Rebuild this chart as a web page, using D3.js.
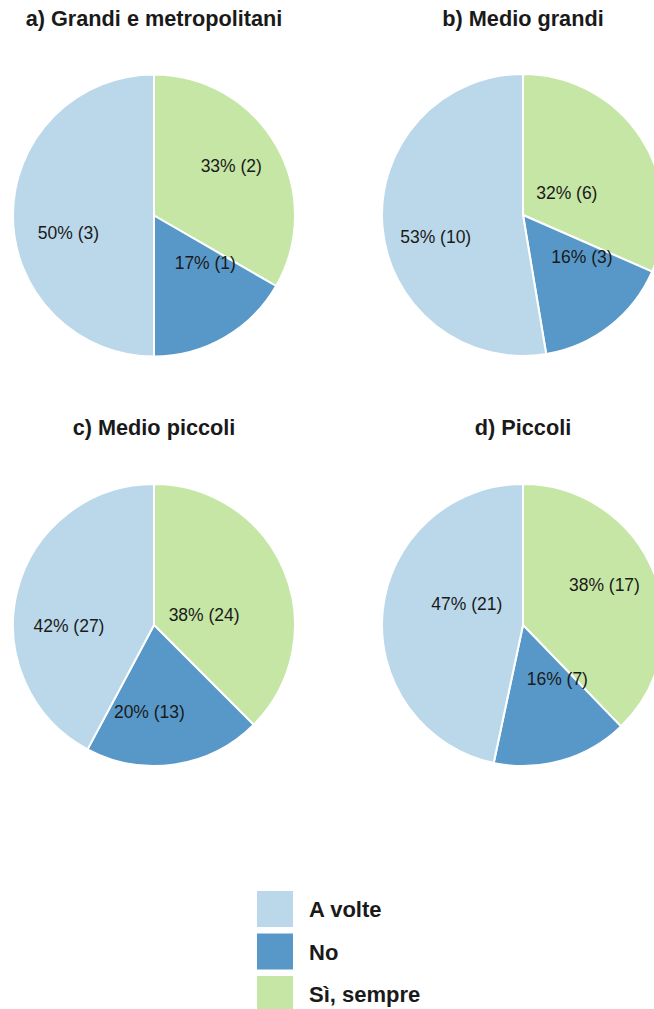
<!DOCTYPE html>
<html>
<head>
<meta charset="utf-8">
<script src="https://cdn.jsdelivr.net/npm/d3@7"></script>
<style>
  html, body { margin: 0; padding: 0; background: #ffffff; }
  svg { display: block; font-family: "Liberation Sans", Arial, sans-serif; }
</style>
</head>
<body>
<svg id="chart" width="654" height="1009"></svg>
<script>
// Panel titles (one pie per municipality size class)
const panels = ["a) Grandi e metropolitani", "b) Medio grandi", "c) Medio piccoli", "d) Piccoli"];

// Answer categories, in the clockwise order the slices are drawn from 12 o'clock
const categories = ["Sì, sempre", "No", "A volte"];
// Legend order
const legendItems = ["A volte", "No", "Sì, sempre"];

// Counts per panel
const siSempre = [2, 6, 24, 17];
const no       = [1, 3, 13, 7];
const aVolte   = [3, 10, 27, 21];

const colors = {
  "A volte": "#bad8ea",
  "No": "#5898c9",
  "Sì, sempre": "#c6e6a5"
};

// Layout
const R = 141;
const centers = [[154, 215.5], [523, 215], [154, 625], [523, 625]];
const titleY = [26, 26, 435, 435];
// Small offsets for each slice label, relative to the slice centroid
const labelNudge = [
  [[4, -7], [9, -26], [-1, 17]],
  [[-27, 24], [7, -25], [-3, 15]],
  [[-28, 22], [-17, 3], [-3, 21]],
  [[3, -8], [11, -27], [28, -12]]
];

const svg = d3.select("#chart");

const pie = d3.pie().sort(null).value(d => d.value).startAngle(0).endAngle(2 * Math.PI);
const arc = d3.arc().innerRadius(0).outerRadius(R);
const labelArc = d3.arc().innerRadius(R * 0.6).outerRadius(R * 0.6);
const color = d3.scaleOrdinal().domain(legendItems).range(legendItems.map(k => colors[k]));

panels.forEach((title, i) => {
  const values = [siSempre[i], no[i], aVolte[i]];
  const total = d3.sum(values);
  const data = categories.map((c, j) => ({ cat: c, value: values[j] }));
  const [cx, cy] = centers[i];

  const g = svg.append("g").attr("transform", `translate(${cx},${cy})`);
  const slices = pie(data);

  g.selectAll("path")
    .data(slices)
    .join("path")
    .attr("d", arc)
    .attr("fill", d => color(d.data.cat))
    .attr("stroke", "#ffffff")
    .attr("stroke-width", 2)
    .attr("stroke-linejoin", "round");

  g.selectAll("text.lbl")
    .data(slices)
    .join("text")
    .attr("class", "lbl")
    .attr("x", (d, j) => labelArc.centroid(d)[0] + labelNudge[i][j][0])
    .attr("y", (d, j) => labelArc.centroid(d)[1] + labelNudge[i][j][1])
    .attr("dy", "0.35em")
    .attr("text-anchor", "middle")
    .attr("font-size", 17.5)
    .attr("fill", "#1a1a1a")
    .text(d => `${Math.round(d.data.value / total * 100)}% (${d.data.value})`);

  svg.append("text")
    .attr("x", cx)
    .attr("y", titleY[i])
    .attr("text-anchor", "middle")
    .attr("font-size", 21.7)
    .attr("font-weight", "bold")
    .attr("fill", "#1a1a1a")
    .text(title);
});

// Legend
const legend = svg.append("g").attr("transform", "translate(257,891)");
const step = 42.5;
legendItems.forEach((k, j) => {
  legend.append("rect")
    .attr("x", 0)
    .attr("y", j * step)
    .attr("width", 36)
    .attr("height", 36)
    .attr("fill", color(k));
  legend.append("text")
    .attr("x", 52)
    .attr("y", j * step + 26)
    .attr("font-size", 22)
    .attr("font-weight", "bold")
    .attr("fill", "#1a1a1a")
    .text(k);
});
</script>
</body>
</html>
